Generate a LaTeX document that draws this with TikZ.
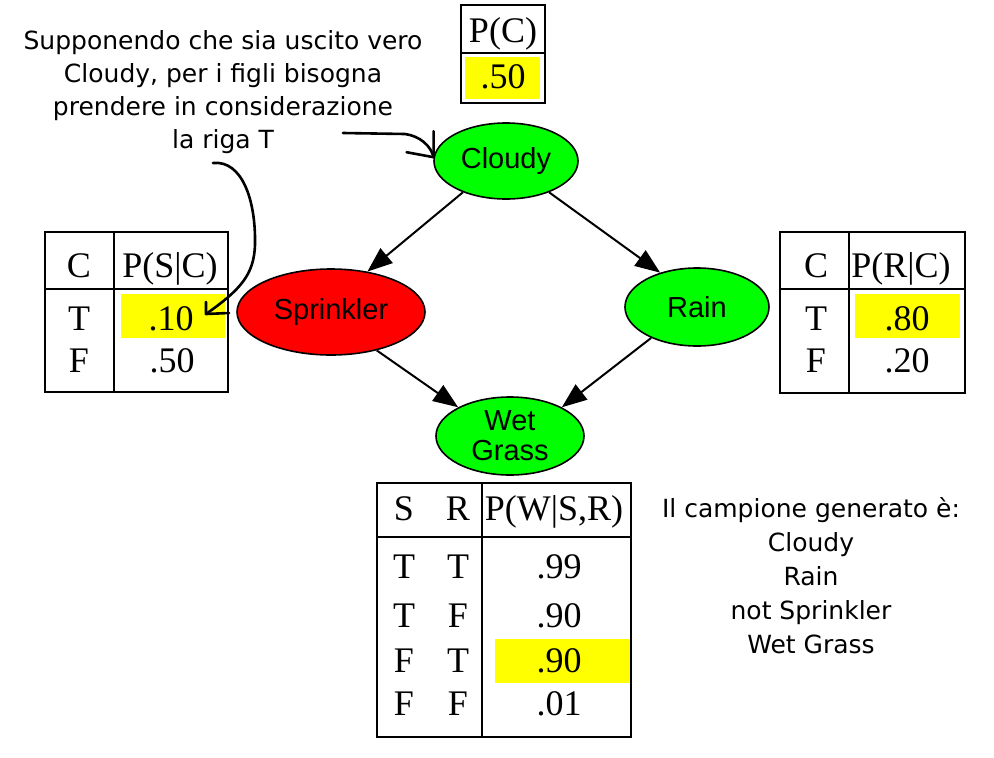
\documentclass[tikz,border=0pt]{standalone}
\usepackage{fontspec}
\setmainfont{Liberation Serif}
\newfontfamily\arialf{Liberation Sans}
\newfontfamily\comicf{DejaVu Sans}
\usetikzlibrary{shapes.geometric,arrows.meta}
\definecolor{ngreen}{RGB}{0,255,0}
\definecolor{nred}{RGB}{255,0,0}
\definecolor{hyellow}{RGB}{255,255,0}
\begin{document}
\begin{tikzpicture}[x=1pt,y=-1pt,
  bnode/.style={ellipse,draw=black,line width=1.6pt,inner sep=0pt,font=\arialf\fontsize{29}{30}\selectfont,align=center},
  edge/.style={line width=2pt,-{Triangle[length=25pt,width=19pt]}},
  tbl/.style={line width=2pt},
  hl/.style={fill=hyellow,draw=none,inner sep=0pt},
  cell/.style={anchor=base,inner sep=0pt,font=\fontsize{36}{40}\selectfont},
  note/.style={font=\comicf\fontsize{25}{33}\selectfont,align=center,inner sep=0pt},
  hand/.style={line width=2.6pt,line cap=round,line join=round}
]
\useasboundingbox (0,0) rectangle (994,758);
\fill[white] (0,0) rectangle (994,758);

% ---- network nodes
\node[bnode,fill=ngreen,minimum width=144pt,minimum height=76pt] (cloudy) at (506,161) {Cloudy};
\node[bnode,fill=nred,minimum width=188pt,minimum height=86pt] (sprinkler) at (331,312) {Sprinkler};
\node[bnode,fill=ngreen,minimum width=144pt,minimum height=78pt] (rain) at (697,307) {Rain};
\node[bnode,fill=ngreen,minimum width=148pt,minimum height=78pt] (wet) at (510,436) {Wet\\Grass};

\draw[edge] (cloudy.216) -- (sprinkler.48);
\draw[edge] (cloudy.324) -- (rain.137);
\draw[edge] (sprinkler.320) -- (wet.151);
\draw[edge] (rain.214) -- (wet.29);

% ---- P(C)
\node[hl,minimum width=75pt,minimum height=42pt] (c50) at (502.5,78) {};
\draw[tbl] (461,5) rectangle (545,103);
\draw[tbl] (461,53) -- (545,53);
\node[cell] (pc) at (503,42) {P(C)};
\node[cell] (pcv) at (503,88) {.50};

% ---- P(S|C)
\node[hl,minimum width=104pt,minimum height=44pt] (s10) at (173,316) {};
\draw[tbl] (45,232) rectangle (228,392);
\draw[tbl] (114,232) -- (114,392);
\draw[tbl] (45,289) -- (228,289);
\node[cell] (sch) at (79,277) {C};
\node[cell] (sph) at (170,277) {P(S|C)};
\node[cell] (st) at (79,330) {T};
\node[cell] (stv) at (171,330) {.10};
\node[cell] (sf) at (79,372) {F};
\node[cell] (sfv) at (172,372) {.50};

% ---- P(R|C)
\node[hl,minimum width=105pt,minimum height=44pt] (r80) at (907.5,316) {};
\draw[tbl] (780,232) rectangle (965,393);
\draw[tbl] (849,232) -- (849,393);
\draw[tbl] (780,289) -- (965,289);
\node[cell] (rch) at (816,277) {C};
\node[cell] (rph) at (901,277) {P(R|C)};
\node[cell] (rt) at (816,330) {T};
\node[cell] (rtv) at (907,330) {.80};
\node[cell] (rf) at (816,372) {F};
\node[cell] (rfv) at (907,372) {.20};

% ---- P(W|S,R)
\node[hl,minimum width=136pt,minimum height=44pt] (w90) at (563,661) {};
\draw[tbl] (377,483) rectangle (631,737);
\draw[tbl] (482,483) -- (482,737);
\draw[tbl] (377,537) -- (631,537);
\node[cell] (wsh) at (404,520) {S};
\node[cell] (wrh) at (458,520) {R};
\node[cell] (wph) at (554,520) {P(W|S,R)};
\node[cell] (w1s) at (404,578) {T};
\node[cell] (w1r) at (458,578) {T};
\node[cell] (w1v) at (559,578) {.99};
\node[cell] (w2s) at (404,627) {T};
\node[cell] (w2r) at (458,627) {F};
\node[cell] (w2v) at (559,627) {.90};
\node[cell] (w3s) at (404,672) {F};
\node[cell] (w3r) at (458,672) {T};
\node[cell] (w3v) at (559,672) {.90};
\node[cell] (w4s) at (404,715) {F};
\node[cell] (w4r) at (458,715) {F};
\node[cell] (w4v) at (559,715) {.01};

% ---- annotations
\node[note] (ann) at (223,92) {Supponendo che sia uscito vero\\Cloudy, per i figli bisogna\\prendere in considerazione\\la riga T};
\node[note,font=\comicf\fontsize{25}{34}\selectfont] (res) at (811,576) {Il campione generato è:\\Cloudy\\Rain\\not Sprinkler\\Wet Grass};

\coordinate (h1s) at (343,133);
\coordinate (h1t) at (cloudy.177);
\draw[hand] (h1s) -- (405,134) .. controls (420,136) and (431,146) .. (h1t);
\draw[hand] ([yshift=26pt]h1t) -- (h1t) -- ([xshift=-27pt,yshift=5pt]h1t);

\coordinate (h2s) at (213,163);
\coordinate (h2t) at (206,314);
\draw[hand] (h2s) .. controls (242,160) and (256,200) .. (255,245) .. controls (254,275) and (240,290) .. (h2t);
\draw[hand] ([yshift=12pt]h2t) -- (h2t) -- ([xshift=23pt,yshift=1pt]h2t);
\end{tikzpicture}
\end{document}
